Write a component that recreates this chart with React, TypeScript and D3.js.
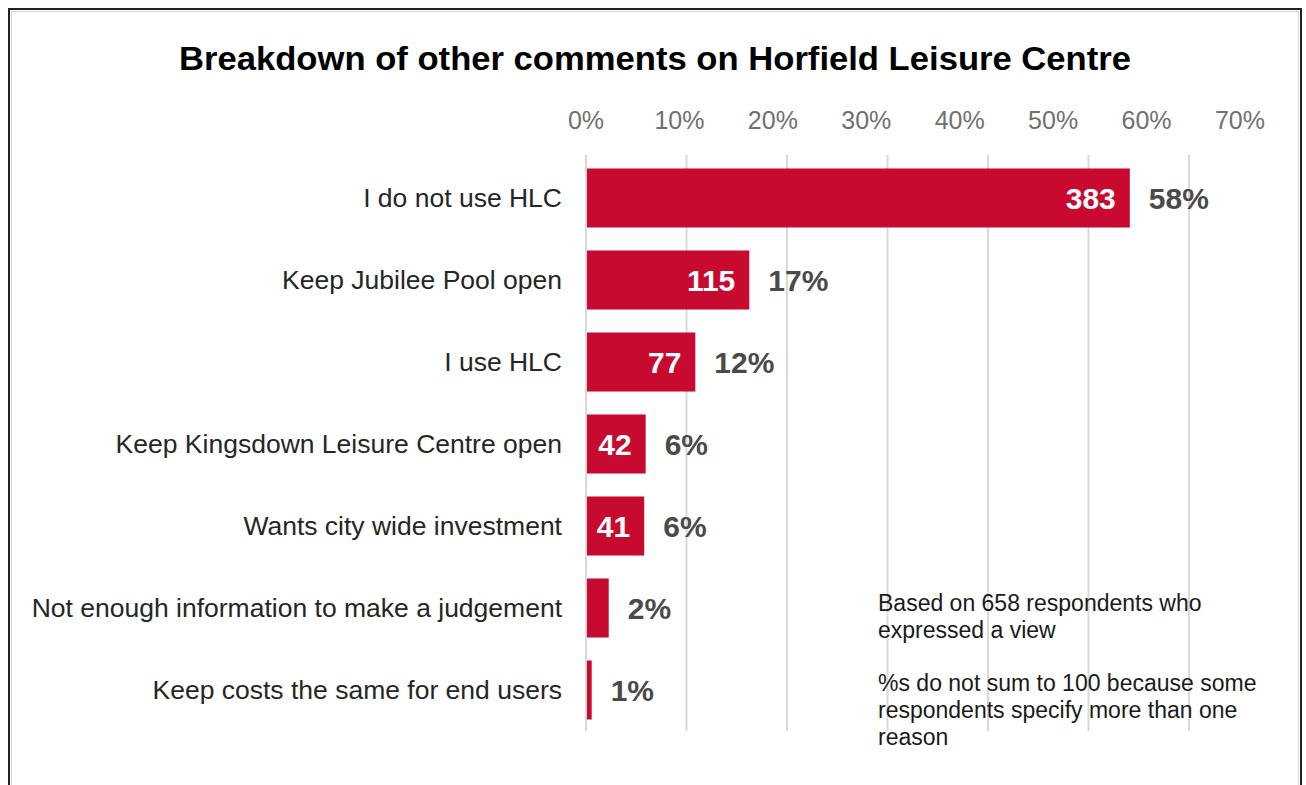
import React from "react";
import * as d3 from "d3";

const TITLE = "Breakdown of other comments on Horfield Leisure Centre";
const categories = [
  "I do not use HLC",
  "Keep Jubilee Pool open",
  "I use HLC",
  "Keep Kingsdown Leisure Centre open",
  "Wants city wide investment",
  "Not enough information to make a judgement",
  "Keep costs the same for end users",
];
const counts = [383, 115, 77, 42, 41, 16, 4];
const showCount = [true, true, true, true, true, false, false];
const TOTAL = 658;
const tickValues = [0, 0.1, 0.2, 0.3, 0.4, 0.5, 0.6, 0.7];
const gridValues = [0, 0.1, 0.2, 0.3, 0.4, 0.5, 0.6];
const noteLines = [
  "Based on 658 respondents who",
  "expressed a view",
  "",
  "%s do not sum to 100 because some",
  "respondents specify more than one",
  "reason",
];

const W = 1306;
const H = 785;
const FONT = "'Liberation Sans', Arial, sans-serif";
const RED = "#C90A30";

export default function App() {
  const x = d3.scaleLinear().domain([0, 0.7]).range([586, 1240]);
  const xGrid = d3.scaleLinear().domain([0, 0.7]).range([586, 1289.5]);
  const y = d3
    .scaleBand<string>()
    .domain(categories)
    .range([157, 731])
    .paddingInner(0.28)
    .paddingOuter(0.14);
  const fmt = d3.format(".0%");

  return (
    <svg
      width={W}
      height={H}
      style={{ position: "absolute", left: 0, top: 0, background: "#fff" }}
      fontFamily={FONT}
    >
      <rect x={0} y={0} width={W} height={H} fill="#fff" />
      <rect x={9} y={9} width={1292} height={800} fill="none" stroke="#222" strokeWidth={2} />
      <rect x={11.5} y={11.5} width={1287} height={800} fill="none" stroke="#d6d6d6" strokeWidth={1} />

      <text
        x={655}
        y={70}
        textAnchor="middle"
        fontSize={34}
        fontWeight="bold"
        fill="#000"
        textLength={952}
        lengthAdjust="spacingAndGlyphs"
      >
        {TITLE}
      </text>

      {gridValues.map((v) => (
        <line
          key={"g" + v}
          x1={xGrid(v)}
          x2={xGrid(v)}
          y1={155}
          y2={731}
          stroke="#d9d9d9"
          strokeWidth={2}
        />
      ))}

      {tickValues.map((v) => (
        <text
          key={"t" + v}
          x={x(v)}
          y={129}
          textAnchor="middle"
          fontSize={25}
          fill="#707070"
        >
          {fmt(v)}
        </text>
      ))}

      {categories.map((c, i) => {
        const v = counts[i] / TOTAL;
        const y0 = y(c)!;
        const bw = y.bandwidth();
        const cy = y0 + bw / 2;
        return (
          <g key={c}>
            <text x={562} y={cy + 9} textAnchor="end" fontSize={26.5} fill="#262626">
              {c}
            </text>
            <rect x={x(0) + 1} y={y0} width={x(v) - x(0) - 1} height={bw} fill={RED} />
            {showCount[i] && (
              <text
                x={x(v) - 14}
                y={cy + 11}
                textAnchor="end"
                fontSize={30}
                fontWeight="bold"
                fill="#fff"
              >
                {counts[i]}
              </text>
            )}
            <text
              x={x(v) + 19}
              y={cy + 11}
              textAnchor="start"
              fontSize={30}
              fontWeight="bold"
              fill="#4a4a4a"
            >
              {fmt(v)}
            </text>
          </g>
        );
      })}

      <text fontSize={23} fill="#1a1a1a">
        {noteLines.map((l, i) => (
          <tspan key={i} x={878} y={611 + i * 26.7}>
            {l}
          </tspan>
        ))}
      </text>
    </svg>
  );
}
